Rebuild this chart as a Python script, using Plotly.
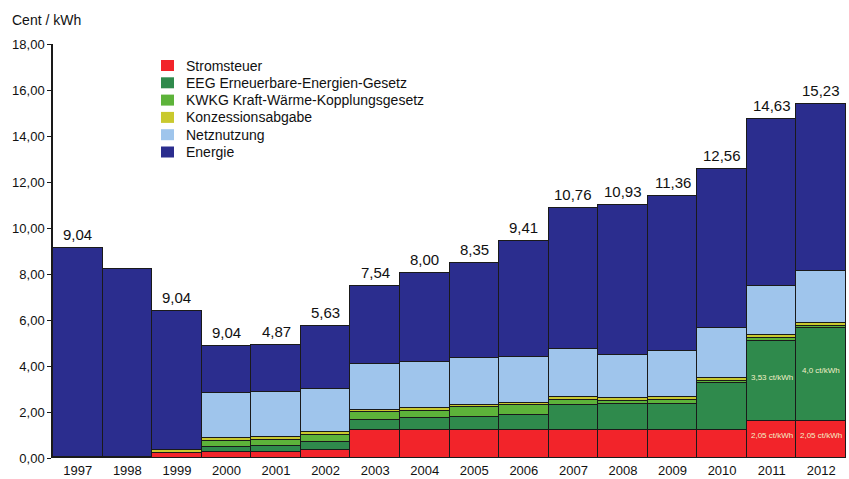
import plotly.graph_objects as go

years = ["1997", "1998", "1999", "2000", "2001", "2002", "2003", "2004",
         "2005", "2006", "2007", "2008", "2009", "2010", "2011", "2012"]

stromsteuer = [0.00, 0.00, 0.21, 0.25, 0.28, 0.36, 1.23, 1.23, 1.23, 1.23, 1.23, 1.23, 1.23, 1.23, 1.60, 1.60]
eeg         = [0.00, 0.00, 0.00, 0.25, 0.25, 0.35, 0.43, 0.50, 0.55, 0.65, 1.09, 1.11, 1.11, 2.03, 3.48, 4.06]
kwkg        = [0.00, 0.00, 0.00, 0.25, 0.26, 0.29, 0.32, 0.33, 0.43, 0.43, 0.22, 0.16, 0.19, 0.07, 0.13, 0.06]
konzession  = [0.05, 0.05, 0.15, 0.11, 0.11, 0.12, 0.12, 0.12, 0.10, 0.09, 0.11, 0.10, 0.11, 0.14, 0.15, 0.14]
netznutzung = [0.00, 0.00, 0.00, 1.98, 1.99, 1.88, 2.00, 2.01, 2.04, 1.98, 2.10, 1.89, 2.00, 2.17, 2.14, 2.26]
energie     = [9.08, 8.17, 6.03, 2.04, 2.04, 2.73, 3.40, 3.87, 4.11, 5.07, 6.10, 6.53, 6.77, 6.94, 7.26, 7.25]

top_labels = ["9,04", "", "9,04", "9,04", "4,87", "5,63", "7,54", "8,00",
              "8,35", "9,41", "10,76", "10,93", "11,36", "12,56", "14,63", "15,23"]

inner_labels = [  # (year, series, text)
    ("2011", "eeg", "3,53 ct/kWh"),
    ("2012", "eeg", "4,0 ct/kWh"),
    ("2011", "strom", "2,05 ct/kWh"),
    ("2012", "strom", "2,05 ct/kWh"),
]

series = [
    ("Stromsteuer", stromsteuer, "#f2242a"),
    ("EEG Erneuerbare-Energien-Gesetz", eeg, "#2f8a4c"),
    ("KWKG Kraft-Wärme-Kopplungsgesetz", kwkg, "#5db33a"),
    ("Konzessionsabgabe", konzession, "#c9c92e"),
    ("Netznutzung", netznutzung, "#9fc5ec"),
    ("Energie", energie, "#2b2d8e"),
]

FONT = "Liberation Sans, Arial, sans-serif"
TXT = "#111111"

fig = go.Figure()
for name, vals, col in series:
    fig.add_trace(go.Bar(
        x=years, y=vals, name=name, showlegend=False,
        marker=dict(color=col, line=dict(color="#1a1a1a", width=1)),
        hoverinfo="skip",
    ))

# bar-top value labels
totals = [sum(v[i] for _, v, _ in series) for i in range(len(years))]
for i, (tot, lab) in enumerate(zip(totals, top_labels)):
    if lab:
        fig.add_annotation(x=i, y=tot, text=lab, showarrow=False,
                           yanchor="bottom", yshift=3,
                           font=dict(family=FONT, size=15, color=TXT))

# small labels inside bars
for yr, ser, txt in inner_labels:
    i = years.index(yr)
    if ser == "eeg":
        yv = stromsteuer[i] + eeg[i] * 0.54
    else:
        yv = stromsteuer[i] * 0.6
    fig.add_annotation(x=i, y=yv, text=txt, showarrow=False,
                       font=dict(family=FONT, size=8, color="#f3f0c8"))

# legend (drawn as squares + text in paper coordinates)
PL, PW, PB, PH = 53, 793, 458, 414
def px_x(px):
    return (px - PL) / PW
def px_y(py):
    return (PB - py) / PH

leg_y0 = 65.5
leg_dy = 17.3
for k, (name, _, col) in enumerate(series):
    cy = leg_y0 + k * leg_dy
    fig.add_shape(type="rect", xref="paper", yref="paper",
                  x0=px_x(161), x1=px_x(174), y0=px_y(cy + 5.5), y1=px_y(cy - 5.5),
                  fillcolor=col, line=dict(width=0))
    fig.add_annotation(xref="paper", yref="paper", x=px_x(184), y=px_y(cy),
                       xanchor="left", yanchor="middle", text=name,
                       showarrow=False,
                       font=dict(family=FONT, size=14, color=TXT))

fig.add_annotation(xref="paper", yref="paper", x=px_x(10), y=px_y(20),
                   xanchor="left", yanchor="middle", text="Cent / kWh",
                   showarrow=False,
                   font=dict(family=FONT, size=14, color=TXT))

fig.update_layout(
    width=849, height=479,
    margin=dict(l=53, r=3, t=44, b=21),
    barmode="stack", bargap=0,
    paper_bgcolor="white", plot_bgcolor="white",
    separators=",.",
    showlegend=False,
    font=dict(family=FONT, size=13, color=TXT),
)
fig.update_yaxes(range=[0, 18], tickvals=[0, 2, 4, 6, 8, 10, 12, 14, 16, 18],
                 tickformat=".2f", showgrid=False, zeroline=False,
                 showline=True, linecolor="#1a1a1a", linewidth=1.5,
                 ticks="outside", ticklen=4, tickcolor="#1a1a1a",
                 automargin=False,
                 tickfont=dict(family=FONT, size=13, color=TXT))
fig.update_xaxes(type="category", range=[-0.5, 15.5], showgrid=False,
                 zeroline=False, showline=False, ticks="",
                 ticklabelstandoff=3, automargin=False,
                 tickfont=dict(family=FONT, size=13, color=TXT))

fig.write_html("out.html")
